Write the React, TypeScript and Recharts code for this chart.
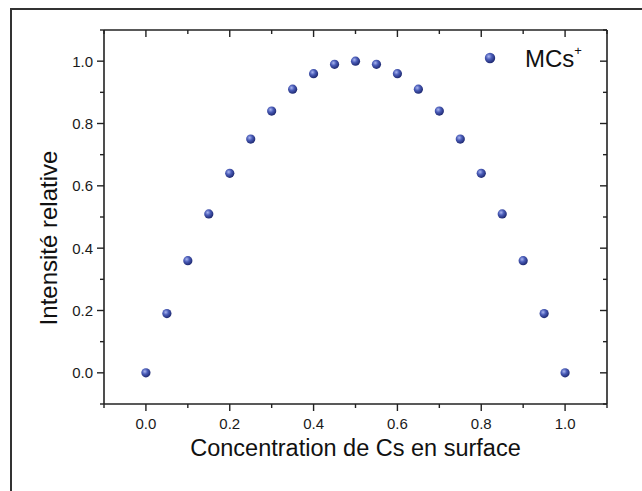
import React from 'react';
import { ScatterChart, Scatter, XAxis, YAxis, Legend } from 'recharts';

const concentration = [0, 0.05, 0.1, 0.15, 0.2, 0.25, 0.3, 0.35, 0.4, 0.45, 0.5, 0.55, 0.6, 0.65, 0.7, 0.75, 0.8, 0.85, 0.9, 0.95, 1.0];
const intensite = [0, 0.19, 0.36, 0.51, 0.64, 0.75, 0.84, 0.91, 0.96, 0.99, 1.0, 0.99, 0.96, 0.91, 0.84, 0.75, 0.64, 0.51, 0.36, 0.19, 0];
const axisTicks = [-0.1, 0, 0.1, 0.2, 0.3, 0.4, 0.5, 0.6, 0.7, 0.8, 0.9, 1.0, 1.1];

const data = concentration.map((x, i) => ({ x, y: intensite[i] }));

const FONT = 'Arial, "Liberation Sans", sans-serif';
const INK = '#222';

const isMajor = (v: number) => {
  const k = Math.round(v * 10);
  return k % 2 === 0 && k >= 0 && k <= 10;
};

const BottomTick = (props: any) => {
  const { x, y, payload } = props;
  const v = payload.value;
  const major = isMajor(v);
  return (
    <g>
      <line x1={x} y1={y} x2={x} y2={y + (major ? 7 : 4)} stroke={INK} strokeWidth={1.4} />
      {major && (
        <text x={x} y={y + 25} textAnchor="middle" fontSize={15} fontFamily={FONT} fill="#1a1a1a">
          {v.toFixed(1)}
        </text>
      )}
    </g>
  );
};

const TopTick = (props: any) => {
  const { x, y, payload } = props;
  const major = isMajor(payload.value);
  return <line x1={x} y1={y} x2={x} y2={y + (major ? 7 : 4)} stroke={INK} strokeWidth={1.4} />;
};

const LeftTick = (props: any) => {
  const { x, y, payload } = props;
  const v = payload.value;
  const major = isMajor(v);
  return (
    <g>
      <line x1={x} y1={y} x2={x - (major ? 7 : 4)} y2={y} stroke={INK} strokeWidth={1.4} />
      {major && (
        <text x={x - 11} y={y} dy="0.36em" textAnchor="end" fontSize={15} fontFamily={FONT} fill="#1a1a1a">
          {v.toFixed(1)}
        </text>
      )}
    </g>
  );
};

const RightTick = (props: any) => {
  const { x, y, payload } = props;
  const major = isMajor(payload.value);
  return <line x1={x} y1={y} x2={x - (major ? 7 : 4)} y2={y} stroke={INK} strokeWidth={1.4} />;
};

const Ball = ({ cx, cy, r = 4.6, id }: { cx: number; cy: number; r?: number; id: string }) => (
  <g>
    <defs>
      <radialGradient id={id} cx="38%" cy="35%" r="65%">
        <stop offset="0%" stopColor="#aab6f0" />
        <stop offset="45%" stopColor="#4a5cb8" />
        <stop offset="100%" stopColor="#1f2a72" />
      </radialGradient>
    </defs>
    <circle cx={cx} cy={cy} r={r} fill={`url(#${id})`} />
  </g>
);

const renderLegend = () => (
  <svg width={130} height={34}>
    <Ball cx={8} cy={14} r={5.2} id="ball-legend" />
    <text x={43} y={23} fontSize={24} fontFamily={FONT} fill="#111">
      MCs
      <tspan dy={-12} fontSize={13}>+</tspan>
    </text>
  </svg>
);

const YTitle = (props: any) => {
  const { viewBox } = props;
  const cx = 48;
  const cy = viewBox.y + viewBox.height / 2 + 21;
  return (
    <text
      x={cx}
      y={cy}
      transform={`rotate(-90 ${cx} ${cy})`}
      textAnchor="middle"
      dy="0.36em"
      fontSize={24}
      fontFamily={FONT}
      fill="#111"
    >
      Intensité relative
    </text>
  );
};

const XTitle = (props: any) => {
  const { viewBox } = props;
  const cx = viewBox.x + viewBox.width / 2;
  return (
    <text x={cx} y={456} textAnchor="middle" fontSize={23.5} fontFamily={FONT} fill="#111">
      Concentration de Cs en surface
    </text>
  );
};

export default function App() {
  return (
    <div style={{ position: 'absolute', left: 0, top: 0, width: 642, height: 491, overflow: 'hidden', background: '#fff' }}>
      <div
        style={{
          position: 'absolute',
          left: 10,
          top: 8,
          width: 700,
          height: 600,
          border: '2px solid #333',
        }}
      />
      <div style={{ position: 'absolute', left: 0, top: 0 }}>
        <ScatterChart width={642} height={491} margin={{ top: 29, right: 34, left: 0, bottom: 0 }}>
          <XAxis
            xAxisId="top"
            orientation="top"
            type="number"
            dataKey="x"
            domain={[-0.1, 1.1]}
            ticks={axisTicks}
            allowDataOverflow
            height={1}
            tickSize={0}
            tickMargin={0}
            tickLine={false}
            tick={TopTick}
            stroke={INK}
            strokeWidth={1.6}
          />
          <XAxis
            type="number"
            dataKey="x"
            domain={[-0.1, 1.1]}
            ticks={axisTicks}
            allowDataOverflow
            height={87}
            tickSize={0}
            tickMargin={0}
            tickLine={false}
            tick={BottomTick}
            stroke={INK}
            strokeWidth={1.6}
            label={<XTitle />}
          />
          <YAxis
            type="number"
            dataKey="y"
            domain={[-0.1, 1.1]}
            ticks={axisTicks}
            allowDataOverflow
            width={104}
            tickSize={0}
            tickMargin={0}
            tickLine={false}
            tick={LeftTick}
            stroke={INK}
            strokeWidth={1.6}
            label={<YTitle />}
          />
          <YAxis
            yAxisId="right"
            orientation="right"
            type="number"
            dataKey="y"
            domain={[-0.1, 1.1]}
            ticks={axisTicks}
            allowDataOverflow
            width={1}
            tickSize={0}
            tickMargin={0}
            tickLine={false}
            tick={RightTick}
            stroke={INK}
            strokeWidth={1.6}
          />
          <Legend
            layout="horizontal"
            verticalAlign="middle"
            align="center"
            content={renderLegend}
            wrapperStyle={{ position: 'absolute', top: 44, left: 482, width: 130 }}
          />
          <Scatter
            name="MCs+"
            data={data}
            isAnimationActive={false}
            shape={(p: any) => <Ball cx={p.cx} cy={p.cy} id={`ball-${p.index}`} />}
          />
        </ScatterChart>
      </div>
    </div>
  );
}
